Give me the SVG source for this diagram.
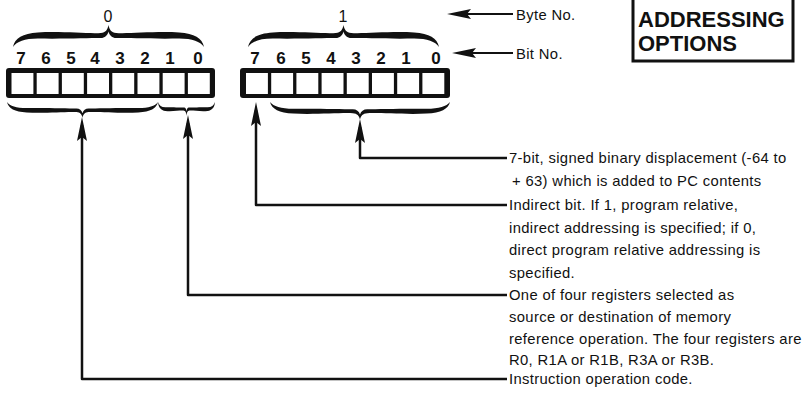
<svg xmlns="http://www.w3.org/2000/svg" width="811" height="397" viewBox="0 0 811 397">
<style>
.bg{fill:#fff}
.frame{fill:#111}
.cell{fill:#fff}
.brace{fill:#111}
.conn{fill:none;stroke:#111;stroke-width:2.5;stroke-linejoin:round}
.ptr{fill:none;stroke:#111;stroke-width:2}
.dig{font-family:"Liberation Sans",Arial,sans-serif;font-weight:bold;font-size:17px;fill:#111;text-anchor:middle}
.byte{font-family:"Liberation Sans",Arial,sans-serif;font-size:16px;fill:#111;text-anchor:middle}
.lbl{font-family:"Liberation Sans",Arial,sans-serif;font-size:14.8px;fill:#111;letter-spacing:0.35px}
.title{font-family:"Liberation Sans",Arial,sans-serif;font-weight:bold;font-size:22px;fill:#111}
.tbox{fill:#fff;stroke:#111;stroke-width:3}
</style>
<defs>
<marker id="arr" viewBox="0 0 24 10" refX="16" refY="5" markerWidth="24" markerHeight="10" markerUnits="userSpaceOnUse" orient="auto">
<path d="M0,0 L24,5 L0,10 L4,5 Z" fill="#111"/>
</marker>
<path id="brace" d="M0,0 C2,-9 10,-13.5 26,-14.5 C50,-16 80,-13 92,-14 C97,-14.5 99,-17 100,-22 C101,-17 103,-14.5 108,-14 C120,-13 150,-16 174,-14.5 C190,-13.5 198,-9 200,0 C196,-5.5 188,-8.5 174,-8.5 C150,-8 120,-9 108,-9 C104,-9 101,-11.5 100,-15.5 C99,-11.5 96,-9 92,-9 C80,-9 50,-8 26,-8.5 C12,-8.5 4,-5.5 0,0 Z"/>
</defs>
<rect class="bg" x="0" y="0" width="811" height="397"/>

<g id="byte0">
<text class="byte" x="108" y="22">0</text>
<use href="#brace" class="brace" transform="translate(13,47) scale(0.955,1)"/>
<g>
<text class="dig" x="21" y="64">7</text>
<text class="dig" x="46" y="64">6</text>
<text class="dig" x="71" y="64">5</text>
<text class="dig" x="95" y="64">4</text>
<text class="dig" x="120" y="64">3</text>
<text class="dig" x="145" y="64">2</text>
<text class="dig" x="170" y="64">1</text>
<text class="dig" x="198" y="64">0</text>
</g>
<rect class="frame" x="6" y="68" width="209" height="30" rx="3"/>
<rect class="cell" x="11.5" y="73" width="21.9" height="21"/>
<rect class="cell" x="36.7" y="73" width="21.9" height="21"/>
<rect class="cell" x="61.9" y="73" width="21.9" height="21"/>
<rect class="cell" x="87.1" y="73" width="21.9" height="21"/>
<rect class="cell" x="112.3" y="73" width="21.9" height="21"/>
<rect class="cell" x="137.5" y="73" width="21.9" height="21"/>
<rect class="cell" x="162.7" y="73" width="21.9" height="21"/>
<rect class="cell" x="187.9" y="73" width="21.9" height="21"/>
<use href="#brace" class="brace" transform="translate(7,102) scale(0.755,-0.72)"/>
<use href="#brace" class="brace" transform="translate(158,102) scale(0.285,-0.62)"/>
</g>

<g id="byte1">
<text class="byte" x="343" y="22">1</text>
<use href="#brace" class="brace" transform="translate(248,47) scale(0.955,1)"/>
<g>
<text class="dig" x="255" y="64">7</text>
<text class="dig" x="281" y="64">6</text>
<text class="dig" x="306" y="64">5</text>
<text class="dig" x="331" y="64">4</text>
<text class="dig" x="356" y="64">3</text>
<text class="dig" x="381" y="64">2</text>
<text class="dig" x="406" y="64">1</text>
<text class="dig" x="436" y="64">0</text>
</g>
<rect class="frame" x="240" y="68" width="210" height="30" rx="3"/>
<rect class="cell" x="246" y="73" width="21.9" height="21"/>
<rect class="cell" x="271.2" y="73" width="21.9" height="21"/>
<rect class="cell" x="296.4" y="73" width="21.9" height="21"/>
<rect class="cell" x="321.6" y="73" width="21.9" height="21"/>
<rect class="cell" x="346.8" y="73" width="21.9" height="21"/>
<rect class="cell" x="372" y="73" width="21.9" height="21"/>
<rect class="cell" x="397.2" y="73" width="21.9" height="21"/>
<rect class="cell" x="422.4" y="73" width="21.9" height="21"/>
<use href="#brace" class="brace" transform="translate(270,102) scale(0.9,-0.8)"/>
</g>

<g id="title">
<rect class="tbox" x="633" y="-5" width="160" height="66"/>
<text class="title" x="638" y="27">ADDRESSING</text>
<text class="title" x="638" y="51">OPTIONS</text>
</g>

<g id="legend-byte"><text class="lbl" x="516" y="20">Byte No.</text></g>
<g id="legend-bit"><text class="lbl" x="516" y="59">Bit No.</text></g>

<g id="desc-displacement">
<text class="lbl" x="509" y="163">7-bit, signed binary displacement (-64 to</text>
<text class="lbl" x="512" y="186">+ 63) which is added to PC contents</text>
</g>
<g id="desc-indirect">
<text class="lbl" x="509" y="210">Indirect bit. If 1, program relative,</text>
<text class="lbl" x="509" y="233">indirect addressing is specified; if 0,</text>
<text class="lbl" x="509" y="255">direct program relative addressing is</text>
<text class="lbl" x="509" y="278">specified.</text>
</g>
<g id="desc-register">
<text class="lbl" x="509" y="300">One of four registers selected as</text>
<text class="lbl" x="509" y="322">source or destination of memory</text>
<text class="lbl" x="509" y="344">reference operation. The four registers are</text>
<text class="lbl" x="509" y="365">R0, R1A or R1B, R3A or R3B.</text>
</g>
<g id="desc-opcode">
<text class="lbl" x="509" y="384">Instruction operation code.</text>
</g>

<g id="connectors">
<path class="ptr" d="M513,14 H455" marker-end="url(#arr)"/>
<path class="ptr" d="M513,53 H460" marker-end="url(#arr)"/>
<path class="conn" d="M507,158 H360 V127" marker-end="url(#arr)"/>
<path class="conn" d="M507,205 H256 V110" marker-end="url(#arr)"/>
<path class="conn" d="M507,295 H188 V123" marker-end="url(#arr)"/>
<path class="conn" d="M507,379 H82 V125" marker-end="url(#arr)"/>
</g>
</svg>
